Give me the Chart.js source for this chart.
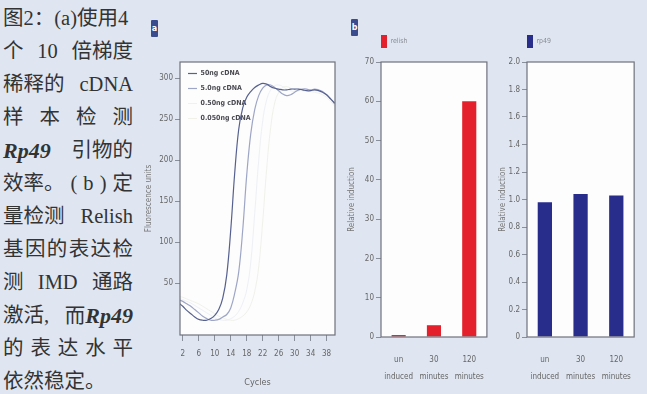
<!DOCTYPE html>
<html>
<head>
<meta charset="utf-8">
<script src="https://cdn.jsdelivr.net/npm/chart.js@4.4.0/dist/chart.umd.min.js"></script>
<style>
  body { margin: 0; background: #dfe6f1; }
  #wrap { position: relative; width: 647px; height: 394px; overflow: hidden; background: #dfe6f1; }
  #caption { position: absolute; left: 3px; top: 2px; width: 130px;
    font-family: "Liberation Serif", "Noto Sans CJK SC", serif; font-size: 20.5px; color: #333; }
  #caption div { height: 33px; line-height: 33px; display: flex; justify-content: space-between; white-space: nowrap; }
  #caption div.last { justify-content: flex-start; }
  #caption i { font-weight: bold; font-size: 22px; }
  .tag { position: absolute; width: 7px; height: 17px; background: #3a4b8e; color: #fff;
    font: bold 8px "DejaVu Sans", sans-serif; text-align: center; line-height: 17px; border-radius: 1px; }
  canvas { position: absolute; top: 0; }
</style>
</head>
<body>
<div id="wrap">
  <div id="caption">
    <div><span>图2：(a)使用4</span></div>
    <div><span>个</span><span>10</span><span>倍梯度</span></div>
    <div><span>稀释的</span><span>cDNA</span></div>
    <div><span>样</span><span>本</span><span>检</span><span>测</span></div>
    <div><i>Rp49</i><span>引物的</span></div>
    <div><span>效率。</span><span>(</span><span>b</span><span>)</span><span>定</span></div>
    <div><span>量检测</span><span>Relish</span></div>
    <div><span>基</span><span>因</span><span>的</span><span>表</span><span>达</span><span>检</span></div>
    <div><span>测</span><span>IMD</span><span>通路</span></div>
    <div><span>激活,</span><span>而<i>Rp49</i></span></div>
    <div><span>的</span><span>表</span><span>达</span><span>水</span><span>平</span></div>
    <div class="last"><span>依然稳定。</span></div>
  </div>
  <div class="tag" style="left:151px;top:20px">a</div>
  <div class="tag" style="left:351px;top:19px">b</div>
  <canvas id="ca" width="200" height="394" style="left:140px"></canvas>
  <canvas id="cb" width="160" height="394" style="left:340px"></canvas>
  <canvas id="cc" width="152" height="394" style="left:495px"></canvas>
</div>
<script>
// amplification curves (panel a)
const cycles = [1, 2, 3, 4, 5, 6, 7, 8, 9, 10, 11, 12, 13, 14, 15, 16, 17, 18, 19, 20,
  21, 22, 23, 24, 25, 26, 27, 28, 29, 30, 31, 32, 33, 34, 35, 36, 37, 38, 39, 40];
const cdna50 = [26, 22, 17, 13, 9, 6, 5, 5, 7, 11, 18, 32, 60, 115, 185, 238, 264, 277, 284, 289,
  292, 294, 293, 290, 288, 287, 286, 286, 287, 287, 287, 286, 285, 285, 286, 285, 283, 280, 275, 270];
const cdna5 = [30, 28, 25, 22, 18, 14, 10, 7, 5, 5, 6, 9, 12, 20, 38, 64, 115, 182, 232, 262,
  279, 288, 292, 292, 289, 285, 281, 279, 280, 283, 286, 287, 287, 286, 287, 286, 284, 280, 275, 269];
const cdna05 = [32, 30, 28, 26, 23, 20, 17, 14, 11, 8, 6, 5, 5, 7, 10, 16, 26, 42, 75, 135,
  200, 248, 274, 286, 291, 292, 290, 287, 285, 284, 285, 286, 286, 285, 285, 284, 282, 279, 274, 268];
const cdna005 = [34, 33, 31, 29, 27, 25, 22, 19, 16, 13, 10, 8, 6, 5, 5, 7, 10, 15, 24, 40,
  70, 125, 190, 240, 270, 283, 289, 290, 288, 286, 285, 285, 284, 284, 283, 282, 280, 277, 272, 266];
const xTicks = [2, 6, 10, 14, 18, 22, 26, 30, 34, 38];
const yTicks = [50, 100, 150, 200, 250, 300];

// induction bars (panel b)
const groups = [["un", "induced"], ["30", "minutes"], ["120", "minutes"]];
const relish = [0.5, 3.0, 60];
const rp49 = [0.98, 1.04, 1.03];

Chart.defaults.font.family = "'Liberation Sans Narrow', 'DejaVu Sans Condensed', 'Liberation Sans', sans-serif";
Chart.defaults.color = '#666';

const frame = {
  id: 'frame',
  beforeDraw(chart) {
    const { ctx, chartArea: a } = chart;
    ctx.save();
    ctx.fillStyle = '#fdfdfe';
    ctx.fillRect(a.left, a.top, a.width, a.height);
    ctx.restore();
  },
  afterDraw(chart) {
    const { ctx, chartArea: a } = chart;
    ctx.save();
    ctx.strokeStyle = '#6e717c';
    ctx.lineWidth = 1.2;
    ctx.strokeRect(a.left, a.top, a.width, a.height);
    ctx.restore();
  }
};

// moves the legend box: dy shifts it, inside puts it over the plot area
const nudge = {
  id: 'nudge',
  afterLayout(chart, args, o) {
    const l = chart.legend;
    if (!l) return;
    if (o.inside) {
      const a = chart.chartArea;
      l.left = a.left; l.top = a.top; l.right = a.right; l.bottom = a.bottom;
    }
    if (o.dy) { l.top += o.dy; l.bottom += o.dy; }
  }
};

const pts = arr => cycles.map((c, i) => ({ x: c, y: arr[i] }));
const tickGrid = { display: true, drawOnChartArea: false, drawTicks: true, tickLength: 5, color: '#8a8f9c' };

new Chart(document.getElementById('ca'), {
  type: 'line',
  data: {
    datasets: [
      { label: '50ng cDNA', data: pts(cdna50), borderColor: '#56618f', borderWidth: 1.2 },
      { label: '5.0ng cDNA', data: pts(cdna5), borderColor: '#9ea6c6', borderWidth: 1.2 },
      { label: '0.50ng cDNA', data: pts(cdna05), borderColor: '#eef0f5', borderWidth: 1 },
      { label: '0.050ng cDNA', data: pts(cdna005), borderColor: '#f1f1ea', borderWidth: 1 }
    ]
  },
  options: {
    responsive: false,
    animation: false,
    layout: { padding: { top: 62, right: 5, left: 0, bottom: 0 } },
    elements: { point: { radius: 0 }, line: { tension: 0.4 } },
    plugins: {
      legend: {
        position: 'chartArea', align: 'start',
        labels: { usePointStyle: true, pointStyle: 'line', pointStyleWidth: 9, padding: 8,
          font: { size: 7, weight: 'bold' }, color: '#4a4a52' }
      },
      tooltip: { enabled: false },
      nudge: { inside: true, dy: 0 }
    },
    scales: {
      x: {
        type: 'linear', min: 1.3, max: 40.1,
        afterBuildTicks: s => { s.ticks = xTicks.map(v => ({ value: v })); },
        afterFit: s => { s.height = 59; },
        grid: Object.assign({}, tickGrid, { tickLength: 6 }),
        border: { display: false },
        ticks: { font: { size: 8 }, padding: 8, maxRotation: 0, autoSkip: false },
        title: { display: true, text: 'Cycles', font: { size: 9 }, color: '#666', padding: { top: 2, bottom: 6 } }
      },
      y: {
        min: -13, max: 320,
        afterBuildTicks: s => { s.ticks = yTicks.map(v => ({ value: v })); },
        afterFit: s => { s.width = 40; },
        grid: tickGrid,
        border: { display: false },
        ticks: { font: { size: 8 }, padding: 2 },
        title: { display: true, text: 'Fluorescence units', font: { size: 8 }, color: '#777', padding: { top: 4, bottom: 0 } }
      }
    }
  },
  plugins: [frame, nudge]
});

function barChart(id, label, values, color, yMax, step, yWidth, titlePad, padRight) {
  return new Chart(document.getElementById(id), {
    type: 'bar',
    data: {
      labels: groups,
      datasets: [{ label: label, data: values, backgroundColor: color, barPercentage: 0.8, categoryPercentage: 0.5 }]
    },
    options: {
      responsive: false,
      animation: false,
      layout: { padding: { top: 39, right: padRight, left: 0, bottom: 0 } },
      plugins: {
        legend: {
          position: 'top', align: 'start', fullSize: false,
          labels: { boxWidth: 6, boxHeight: 13, padding: 0, font: { size: 7 }, color: '#8a8d96' }
        },
        tooltip: { enabled: false },
        nudge: { dy: -4 }
      },
      scales: {
        x: {
          grid: { display: false, drawTicks: false },
          border: { display: false },
          ticks: { font: { size: 8, lineHeight: 2.2 }, padding: 14, maxRotation: 0, autoSkip: false },
          afterFit: s => { s.height = 57; }
        },
        y: {
          min: 0, max: yMax,
          ticks: { stepSize: step, font: { size: 8 }, padding: 2,
            callback: v => step < 1 ? (v === 0 ? '0' : v.toFixed(1)) : v },
          grid: tickGrid,
          border: { display: false },
          title: { display: true, text: 'Relative induction', font: { size: 8 }, color: '#777', padding: { top: titlePad, bottom: 0 } },
          afterFit: s => { s.width = yWidth; }
        }
      }
    },
    plugins: [frame, nudge]
  });
}

barChart('cb', 'relish', relish, '#e3202b', 70, 10, 41, 7, 6);
barChart('cc', 'rp49', rp49, '#282d8c', 2, 0.2, 32, 3, 5);
</script>
</body>
</html>
